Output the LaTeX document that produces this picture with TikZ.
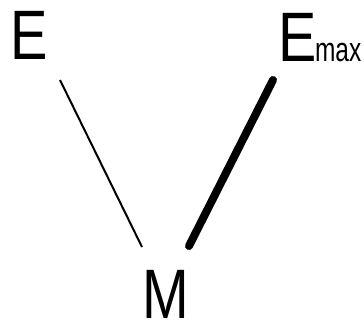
\documentclass[tikz,border=0pt]{standalone}
\usepackage{fontspec}
\setmainfont{Liberation Sans}
\usepackage{graphicx}
\begin{document}
\begin{tikzpicture}[x=1pt,y=-1pt,
  lbl/.style={inner sep=0pt,outer sep=0pt,anchor=base,font=\fontsize{70}{70}\selectfont},
  sub/.style={inner sep=0pt,outer sep=0pt,anchor=base west,font=\fontsize{34}{34}\selectfont},
  thinline/.style={line width=2pt},
  thickline/.style={line width=8pt,line cap=round}]
\useasboundingbox (0,0) rectangle (364,322);
\node[lbl] (E) at (29,59) {\scalebox{0.8}[1]{E}};
\node[lbl] (Emax) at (298,61) {\scalebox{0.82}[1]{E}};
\node[sub] (max) at (315,61) {\scalebox{0.72}[1]{max}};
\node[lbl] (M) at (166,318) {\scalebox{0.8}[1]{M}};
\coordinate (a1) at (60,80);
\coordinate (a2) at (142,247);
\coordinate (b1) at (273,80);
\coordinate (b2) at (189,246);
\draw[thinline] (a1) -- (a2);
\draw[thickline] (b1) -- (b2);
\end{tikzpicture}
\end{document}
